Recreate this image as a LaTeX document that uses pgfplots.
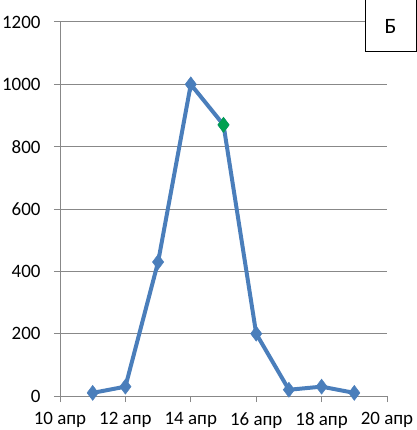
\documentclass[border=0pt]{standalone}
\usepackage{pgfplots}
\pgfplotsset{compat=1.18}
\usepackage{fontspec}
\setmainfont{Carlito}
\definecolor{serie}{HTML}{4A7EBB}
\definecolor{peak}{HTML}{00A050}
\definecolor{gridgray}{HTML}{888888}
\begin{document}
\begin{tikzpicture}[x=1bp,y=1bp]
\begin{axis}[
  at={(60bp,34bp)}, anchor=south west,
  scale only axis, width=327bp, height=374bp,
  xmin=10, xmax=20, ymin=0, ymax=1200,
  xtick={10,12,...,20},
  xticklabels={10 апр,12 апр,14 апр,16 апр,18 апр,20 апр},
  ytick={0,200,...,1200},
  axis x line*=bottom, axis y line*=left,
  axis line style={gridgray, line width=1pt, -},
  ymajorgrids, xmajorgrids=false,
  major grid style={gridgray, line width=1pt},
  tick style={gridgray, line width=1pt},
  xtick align=outside, ytick align=outside,
  major tick length=6bp,
  tick label style={font=\fontsize{19}{22}\selectfont, text=black},
  /pgf/number format/assume math mode=true,
  /pgf/number format/1000 sep={},
  xticklabel shift=7bp,
  yticklabel shift=10bp,
  clip=false,
]
\addplot[serie, line width=4pt, mark=diamond*, mark size=7.5bp,
  mark options={fill=serie, draw=serie, line width=0.5pt}]
  coordinates {(11,10)(12,30)(13,430)(14,1000)(15,870)(16,200)(17,20)(18,30)(19,10)};
\addplot[only marks, mark=diamond*, mark size=7.5bp,
  mark options={fill=peak, draw=peak, line width=0.5pt}]
  coordinates {(15,870)};
\end{axis}
\draw[black, line width=1pt, fill=white] (365bp,378bp) rectangle (416bp,430bp);
\node[font=\fontsize{22}{26}\selectfont] at (390.5bp,404bp) {Б};
\pgfresetboundingbox
\useasboundingbox (0,0) rectangle (417bp,430bp);
\end{tikzpicture}
\end{document}
